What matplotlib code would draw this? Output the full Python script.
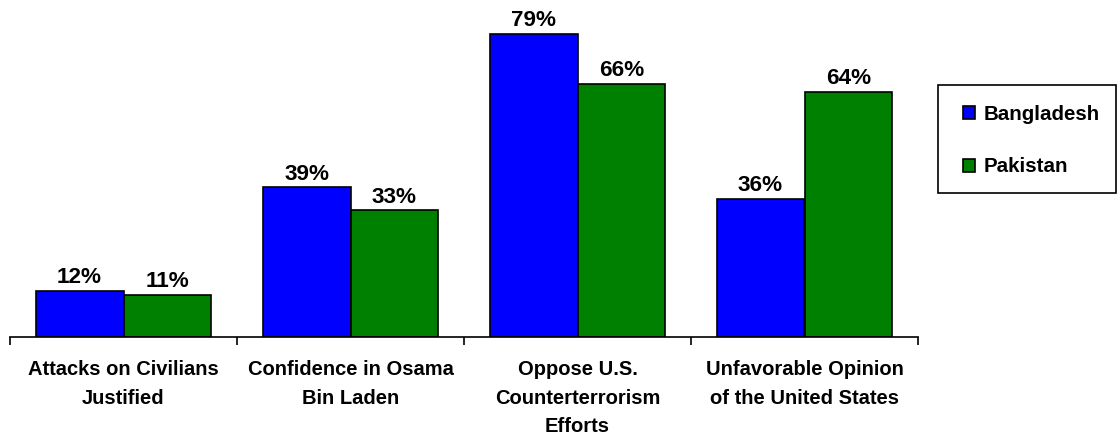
import matplotlib
matplotlib.use("Agg")
import matplotlib.pyplot as plt
from matplotlib.patches import Rectangle
import numpy as np

categories = ["Attacks on Civilians\nJustified",
              "Confidence in Osama\nBin Laden",
              "Oppose U.S.\nCounterterrorism\nEfforts",
              "Unfavorable Opinion\nof the United States"]
bangladesh = [12, 39, 79, 36]
pakistan = [11, 33, 66, 64]
series_names = ["Bangladesh", "Pakistan"]

plt.rcParams['font.family'] = ['Liberation Sans', 'DejaVu Sans']
plt.rcParams['font.weight'] = 'bold'

W, H = 1117, 440
fig = plt.figure(figsize=(W / 100, H / 100), dpi=100)
ax_left, ax_right, ax_bottom, ax_top = 10, 918, 337, 11
ax = fig.add_axes([ax_left / W, 1 - ax_bottom / H,
                   (ax_right - ax_left) / W, (ax_bottom - ax_top) / H])

x = np.arange(len(categories))
bw = 0.387
b1 = ax.bar(x - bw / 2, bangladesh, bw, color="#0000FF", edgecolor="black",
            linewidth=1.2, label=series_names[0])
b2 = ax.bar(x + bw / 2, pakistan, bw, color="#008000", edgecolor="black",
            linewidth=1.2, label=series_names[1])

for bars, vals in ((b1, bangladesh), (b2, pakistan)):
    for r, v in zip(bars, vals):
        ax.annotate(f"{v}%", (r.get_x() + r.get_width() / 2, r.get_height()),
                    xytext=(0, 5.5), textcoords="offset points",
                    ha="center", va="baseline", fontsize=16.2, fontweight="bold")

ax.set_xlim(-0.5, len(categories) - 0.5)
ax.set_ylim(0, 85)
for s in ("left", "right", "top"):
    ax.spines[s].set_visible(False)
ax.spines["bottom"].set_linewidth(1.2)
ax.set_yticks([])
ax.set_xticks(x)
ax.set_xticklabels(categories, fontsize=14.5, fontweight="bold", linespacing=1.65,
                   va="top")
ax.tick_params(axis="x", which="major", length=0, pad=16.5)
ax.set_xticks(np.arange(-0.5, len(categories), 1.0), minor=True)
ax.tick_params(axis="x", which="minor", length=5.5, width=1.2, direction="out")

# legend frame (drawn separately so padding matches)
fig.patches.append(Rectangle((938 / W, 1 - 193 / H), 178 / W, 108 / H,
                             transform=fig.transFigure, facecolor="white",
                             edgecolor="black", linewidth=1.2, zorder=0))
leg = fig.legend(handles=[b1, b2], labels=series_names,
                 loc="upper left",
                 bbox_to_anchor=(963 / W, 1 - 105 / H),
                 borderaxespad=0, borderpad=0, frameon=False,
                 handlelength=0.6, handleheight=0.6,
                 handletextpad=0.4, labelspacing=1.62,
                 prop={'weight': 'bold', 'size': 14.8})

fig.savefig("out.png", dpi=100)
